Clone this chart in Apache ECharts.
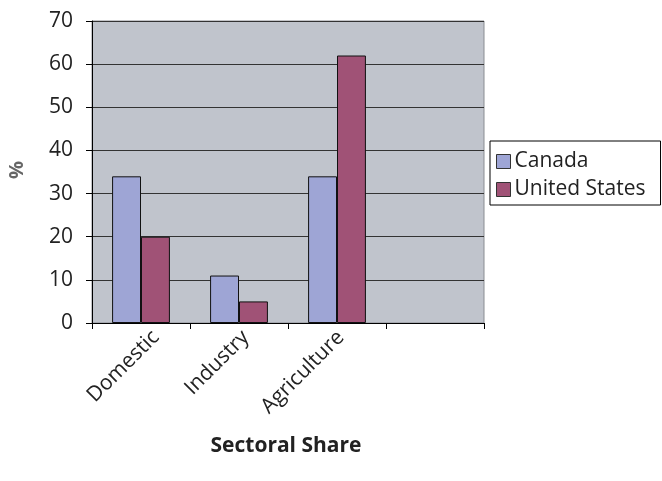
<!DOCTYPE html>
<html>
<head>
<meta charset="utf-8">
<script src="https://cdn.jsdelivr.net/npm/echarts@6/dist/echarts.min.js"></script>
<style>
html,body{margin:0;padding:0;background:#fff;}
#chart{width:662px;height:481px;}
</style>
</head>
<body>
<div id="chart"></div>
<script>
const categories = ['Domestic', 'Industry', 'Agriculture', ''];
const canada = [34, 11, 34, null];
const unitedStates = [20, 5, 62, null];
const yTicks = [0, 10, 20, 30, 40, 50, 60, 70];
const seriesNames = ['Canada', 'United States'];
const xTitle = 'Sectoral Share';
const yTitle = '%';

const font = '"Open Sans", Lato, sans-serif';
const labelBase = { fontSize: 21, color: '#222', fontFamily: font };
const chart = echarts.init(document.getElementById('chart'));
chart.setOption({
  animation: false,
  backgroundColor: '#ffffff',
  textStyle: { fontFamily: font },
  grid: {
    left: 92, right: 178, top: 21, bottom: 158,
    show: true, backgroundColor: '#c0c4cc', borderColor: '#8a8d92', borderWidth: 1
  },
  legend: {
    orient: 'vertical',
    left: 490, top: 141,
    padding: [10, 15, 5, 6],
    itemGap: 7,
    itemWidth: 14, itemHeight: 14,
    borderColor: '#000', borderWidth: 1,
    icon: 'rect',
    data: seriesNames,
    itemStyle: { borderColor: '#333', borderWidth: 1 },
    textStyle: { fontSize: 21, lineHeight: 21, color: '#222', fontFamily: font, padding: [0, 0, 0, -1] }
  },
  title: {
    text: xTitle,
    left: 281, top: 431,
    textAlign: 'center',
    textStyle: { fontSize: 21, fontWeight: 'bold', color: '#222', fontFamily: font }
  },
  graphic: [{
    type: 'text',
    x: 17, y: 170,
    rotation: Math.PI / 2,
    style: {
      text: yTitle, fontSize: 20, fontWeight: 'bold', fill: '#666',
      align: 'center', verticalAlign: 'middle', fontFamily: font
    }
  }],
  xAxis: {
    type: 'category',
    data: categories,
    boundaryGap: true,
    axisLine: { show: true, lineStyle: { color: '#000', width: 1 } },
    axisTick: { show: true, length: 6, lineStyle: { color: '#000' } },
    axisLabel: {
      rotate: 45, fontSize: 21, color: '#222', margin: -4, interval: 0,
      verticalAlign: 'top', lineHeight: 42,
      fontFamily: font,
      formatter: function (value, index) {
        return value ? '{c' + index + '|' + value + '}' : '';
      },
      rich: {
        c0: Object.assign({ lineHeight: 42 }, labelBase),
        c1: Object.assign({ lineHeight: 31, padding: [0, 6, 0, 0] }, labelBase),
        c2: Object.assign({ lineHeight: 27, padding: [0, 8, 0, 0] }, labelBase)
      }
    },
    splitLine: { show: false }
  },
  yAxis: {
    type: 'value',
    min: yTicks[0], max: yTicks[yTicks.length - 1], interval: 10,
    axisLine: { show: true, lineStyle: { color: '#000', width: 1 } },
    axisTick: { show: true, length: 6, lineStyle: { color: '#000' } },
    axisLabel: { fontSize: 21, color: '#222', margin: 19, fontFamily: font },
    splitLine: { show: true, lineStyle: { color: '#333', width: 1 } }
  },
  series: [
    {
      name: seriesNames[0], type: 'bar', data: canada,
      barGap: '0%', barCategoryGap: '41%',
      itemStyle: { color: '#9ea5d5', borderColor: '#111', borderWidth: 1 }
    },
    {
      name: seriesNames[1], type: 'bar', data: unitedStates,
      itemStyle: { color: '#a05276', borderColor: '#111', borderWidth: 1 }
    }
  ]
});
</script>
</body>
</html>
